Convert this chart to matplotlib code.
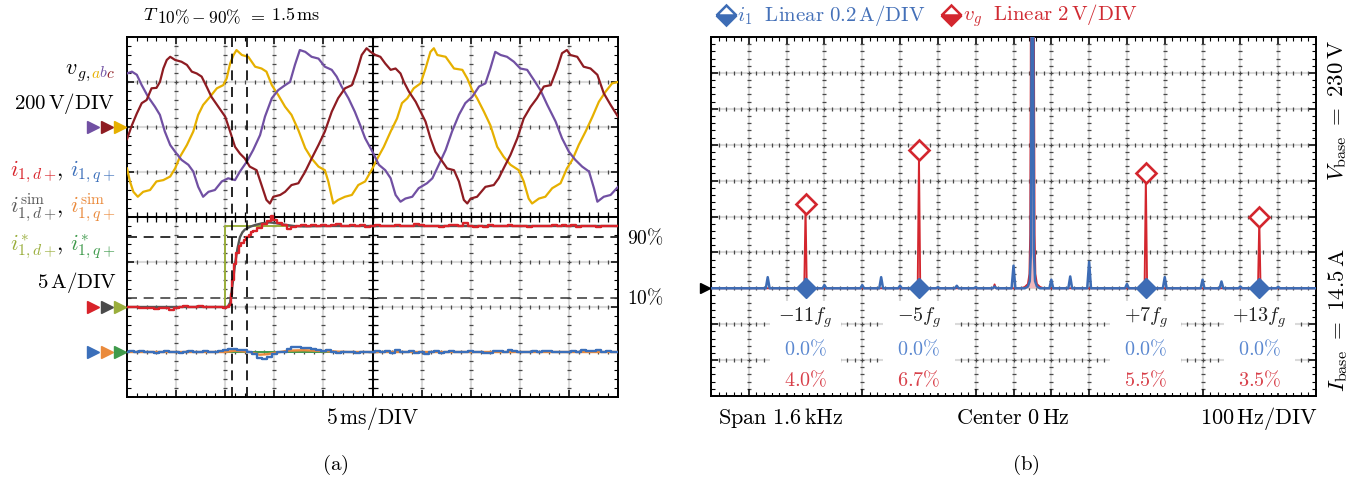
import numpy as np
import matplotlib
matplotlib.use("Agg")
import matplotlib.pyplot as plt
from matplotlib.patches import Rectangle

plt.rcParams['mathtext.fontset'] = 'cm'
plt.rcParams['font.family'] = 'serif'
plt.rcParams['font.serif'] = ['DejaVu Serif']

# ---------------- DATA (left panel, units: divisions; 5 ms/DIV, 200 V/DIV, 5 A/DIV) -------------
# grid voltage phase a (gold), (time_div, value_div)
vga_pts = [(0, -0.92), (0.06, -1.21), (0.13, -1.44), (0.22, -1.55), (0.33, -1.44), (0.47, -1.40), (0.6, -1.21),
           (0.74, -1.18), (0.88, -1.10), (0.98, -0.92), (1.08, -0.66), (1.22, -0.40), (1.35, -0.10), (1.45, 0.27),
           (1.55, 0.49), (1.69, 0.67), (1.83, 0.86), (1.96, 0.93), (2.03, 1.08), (2.1, 1.41), (2.17, 1.6),
           (2.23, 1.71), (2.34, 1.6), (2.47, 1.56), (2.61, 1.34), (2.74, 1.30), (2.84, 1.23), (2.95, 0.93),
           (3.08, 0.71), (3.22, 0.45), (3.35, 0.27), (3.49, -0.07), (3.63, -0.47), (3.76, -0.70), (3.9, -0.88),
           (4.03, -0.96), (4.1, -1.21), (4.2, -1.70), (4.3, -1.62), (4.44, -1.55), (4.58, -1.51), (4.71, -1.29),
           (4.85, -1.21), (5.0, -0.92), (5.1, -0.70), (5.23, -0.44), (5.37, -0.10), (5.5, 0.19), (5.6, 0.53),
           (5.71, 0.64), (5.84, 0.86), (5.98, 0.97), (6.08, 1.30), (6.18, 1.67), (6.25, 1.75), (6.32, 1.6),
           (6.49, 1.56), (6.66, 1.30), (6.83, 1.27), (6.93, 1.08), (7.03, 0.82), (7.13, 0.64), (7.27, 0.34),
           (7.40, 0.04), (7.54, -0.44), (7.67, -0.66), (7.81, -0.84), (7.98, -0.96), (8.08, -1.21), (8.18, -1.59),
           (8.25, -1.70), (8.39, -1.59), (8.52, -1.55), (8.66, -1.36), (8.83, -1.25), (8.96, -0.92), (9.07, -0.73),
           (9.2, -0.40), (9.34, -0.10), (9.48, 0.23), (9.61, 0.56), (9.75, 0.79), (9.88, 0.97), (10.0, 1.0)]
# phase b (purple)
vgb_pts = [(0, 1.19), (0.1, 1.23), (0.2, 1.16), (0.3, 0.93), (0.43, 0.67), (0.57, 0.45), (0.67, 0.27), (0.77, -0.10),
           (0.88, -0.40), (0.98, -0.55), (1.11, -0.73), (1.25, -0.84), (1.35, -0.99), (1.45, -1.33), (1.55, -1.55),
           (1.66, -1.44), (1.79, -1.40), (1.93, -1.21), (2.06, -1.14), (2.2, -1.18), (2.3, -0.99), (2.44, -0.77),
           (2.57, -0.51), (2.71, -0.18), (2.81, 0.23), (2.95, 0.64), (3.08, 0.82), (3.22, 0.93), (3.32, 1.0),
           (3.42, 1.38), (3.52, 1.71), (3.63, 1.67), (3.76, 1.56), (3.9, 1.52), (4.03, 1.34), (4.17, 1.27),
           (4.27, 1.12), (4.37, 0.90), (4.51, 0.64), (4.64, 0.34), (4.75, 0.04), (4.85, -0.25), (5.0, -0.55),
           (5.13, -0.84), (5.26, -0.96), (5.37, -1.14), (5.47, -1.51), (5.57, -1.66), (5.67, -1.59), (5.81, -1.55),
           (5.94, -1.36), (6.11, -1.25), (6.22, -1.14), (6.35, -0.84), (6.49, -0.51), (6.62, -0.10), (6.76, 0.27),
           (6.89, 0.53), (7.03, 0.67), (7.17, 0.90), (7.3, 0.97), (7.4, 1.30), (7.5, 1.67), (7.61, 1.6),
           (7.74, 1.56), (7.88, 1.45), (8.01, 1.30), (8.15, 1.27), (8.29, 1.04), (8.42, 0.82), (8.56, 0.49),
           (8.73, 0.12), (8.86, -0.25), (9.0, -0.55), (9.13, -0.73), (9.27, -0.88), (9.41, -0.99), (9.51, -1.36),
           (9.58, -1.66), (9.71, -1.55), (9.85, -1.51), (10.0, -1.33)]
# phase c (dark red)
vgc_pts = [(0, -0.27), (0.1, 0.04), (0.2, 0.30), (0.3, 0.53), (0.4, 0.60), (0.5, 0.86), (0.6, 0.87), (0.67, 1.0),
           (0.74, 1.30), (0.81, 1.49), (0.88, 1.56), (0.98, 1.49), (1.11, 1.45), (1.22, 1.38), (1.32, 1.23),
           (1.42, 1.19), (1.52, 1.12), (1.62, 0.9), (1.72, 0.67), (1.86, 0.45), (2.0, 0.23), (2.1, -0.1),
           (2.2, -0.44), (2.3, -0.59), (2.4, -0.70), (2.5, -0.88), (2.64, -0.96), (2.74, -1.29), (2.84, -1.62),
           (2.91, -1.70), (2.98, -1.55), (3.12, -1.51), (3.22, -1.44), (3.35, -1.29), (3.49, -1.25), (3.63, -0.99),
           (3.76, -0.70), (3.9, -0.40), (4.03, -0.10), (4.17, 0.34), (4.3, 0.64), (4.44, 0.86), (4.58, 0.93),
           (4.68, 1.23), (4.78, 1.6), (4.88, 1.75), (4.96, 1.67), (5.06, 1.6), (5.16, 1.56), (5.26, 1.41),
           (5.37, 1.27), (5.47, 1.30), (5.57, 1.19), (5.64, 1.0), (5.74, 0.79), (5.88, 0.56), (5.98, 0.34),
           (6.08, 0.12), (6.18, -0.25), (6.28, -0.55), (6.38, -0.70), (6.52, -0.92), (6.66, -0.96), (6.76, -1.21),
           (6.86, -1.62), (6.93, -1.70), (7.0, -1.59), (7.13, -1.55), (7.30, -1.33), (7.47, -1.29), (7.57, -1.14),
           (7.67, -0.92), (7.81, -0.62), (7.95, -0.25), (8.08, 0.19), (8.22, 0.45), (8.35, 0.64), (8.49, 0.90),
           (8.63, 0.93), (8.76, 1.30), (8.86, 1.64), (8.96, 1.71), (9.03, 1.6), (9.17, 1.56), (9.30, 1.34),
           (9.44, 1.30), (9.58, 1.16), (9.71, 0.75), (9.85, 0.49), (10.0, 0.23)]

# measured d-axis current (red)
t_id = [0.0, 0.1, 0.2, 0.3, 0.4, 0.5, 0.6, 0.7, 0.8, 0.9, 1.0, 1.1, 1.2, 1.3, 1.4, 1.5, 1.6, 1.7, 1.8, 1.9, 2.0,
        2.05, 2.1, 2.13, 2.16, 2.2, 2.25, 2.3, 2.35, 2.4, 2.45, 2.5, 2.55, 2.6, 2.7, 2.8, 2.9, 2.95, 3.0,
        3.1, 3.2, 3.3, 3.4, 3.5, 3.6, 3.7, 3.8, 3.9, 4.0, 4.1, 4.2, 4.3, 4.4, 4.5, 4.6, 4.7, 4.8, 4.9, 5.0,
        5.1, 5.2, 5.3, 5.4, 5.5, 5.6, 5.7, 5.8, 5.9, 6.0, 6.1, 6.2, 6.3, 6.4, 6.5, 6.6, 6.7, 6.8, 6.9, 7.0,
        7.1, 7.2, 7.3, 7.4, 7.5, 7.6, 7.7, 7.8, 7.9, 8.0, 8.1, 8.2, 8.3, 8.4, 8.5, 8.6, 8.7, 8.8, 8.9, 9.0,
        9.1, 9.2, 9.3, 9.4, 9.5, 9.6, 9.7, 9.8, 9.9, 10.0]
i_d = [0.0, 0.01, -0.01, -0.02, -0.03, -0.02, -0.04, -0.02, -0.03, -0.06, -0.02, 0.0, 0.02, -0.01, 0.01, 0.03, 0.0,
       0.01, -0.01, 0.0, -0.02,
       -0.01, 0.05, 0.3, 0.6, 0.95, 1.2, 1.35, 1.42, 1.5, 1.56, 1.6, 1.66, 1.7, 1.76, 1.84, 1.92, 2.02, 1.93,
       1.87, 1.82, 1.74, 1.78, 1.8, 1.83, 1.8, 1.82, 1.81, 1.83, 1.8, 1.82, 1.84, 1.81, 1.79, 1.83, 1.8, 1.82, 1.78, 1.8,
       1.83, 1.79, 1.81, 1.8, 1.82, 1.79, 1.81, 1.8, 1.84, 1.82, 1.79, 1.8, 1.81, 1.78, 1.81, 1.82, 1.83, 1.79, 1.86, 1.81,
       1.77, 1.8, 1.78, 1.82, 1.79, 1.81, 1.8, 1.83, 1.8, 1.79, 1.81, 1.78, 1.8, 1.79, 1.81, 1.8, 1.82, 1.79, 1.83, 1.8,
       1.82, 1.78, 1.8, 1.79, 1.81, 1.78, 1.8, 1.79, 1.8, 1.79]
# simulated d-axis current (gray)
t_id_sim = [0, 2.05, 2.1, 2.15, 2.2, 2.25, 2.3, 2.35, 2.4, 2.5, 2.6, 2.75, 2.9, 3.0, 3.2, 3.4, 3.6, 4.0, 10.0]
i_d_sim = [0, 0, 0.1, 0.5, 0.95, 1.3, 1.55, 1.66, 1.72, 1.78, 1.82, 1.86, 1.88, 1.87, 1.83, 1.8, 1.79, 1.8, 1.8]
# d-axis reference (olive)
t_id_ref = [0, 2.0, 2.0, 10.0]
i_d_ref = [0, 0, 1.81, 1.81]

# measured q-axis current (blue)
t_iq = [round(0.1 * k, 1) for k in range(101)]
i_q = [0.0, 0.03, -0.01, 0.02, -0.01, 0.01, -0.02, 0.0, 0.02, -0.01, 0.0, -0.02, 0.01, 0.02, -0.01, 0.0, 0.02,
       -0.01, 0.01, 0.02, 0.04, 0.06, 0.07, 0.05, 0.04, 0.0, -0.05, -0.14, -0.16, -0.1, -0.04, -0.01, 0.0, 0.06,
       0.12, 0.11, 0.09, 0.08, 0.07, 0.05, 0.02, 0.04, 0.0, -0.02, 0.01, -0.01, 0.0, -0.02, 0.01, -0.01, 0.0,
       0.02, 0.0, 0.03, -0.02, 0.04, 0.01, -0.01, 0.02, -0.02, 0.01, -0.05, -0.01, 0.02, -0.02, 0.0, 0.02, -0.01,
       0.01, 0.0, 0.02, -0.01, 0.0, -0.03, -0.02, 0.02, 0.03, 0.01, 0.04, 0.02, 0.0, -0.01, 0.0, 0.02, 0.01,
       0.03, 0.02, -0.01, 0.0, -0.01, 0.0, 0.02, -0.01, 0.05, 0.03, 0.02, 0.04, 0.01, 0.03, 0.0, 0.01]
# simulated q-axis current (orange)
t_iq_sim = [0, 2.0, 2.2, 2.5, 2.7, 2.85, 3.0, 3.3, 3.6, 4.0, 4.5, 10.0]
i_q_sim = [0, 0, 0.03, 0.0, -0.06, -0.05, -0.02, 0.03, 0.04, 0.02, 0.0, 0.0]
# q-axis reference (green)
t_iq_ref = [0, 10.0]
i_q_ref = [0, 0]

t_rise_marks = [2.14, 2.44]          # dashed time cursors (div)
level_10 = 0.207                     # 10 % line (div above zero)
level_90 = 1.562                     # 90 % line (div above zero)

# ---------------- DATA (right panel: spectrum, 100 Hz/DIV, heights in div) -------------
vg_harm_freq = [-550, -250, 350, 650]
vg_harm_height = [2.34, 3.84, 3.20, 2.00]
vg_harm_labels = [r'$-11f_g$', r'$-5f_g$', r'$+7f_g$', r'$+13f_g$']
i1_harm_pct = ['0.0%', '0.0%', '0.0%', '0.0%']
vg_harm_pct = ['4.0%', '6.7%', '5.5%', '3.5%']
vg_small_freq = [-50]
vg_small_height = [0.11]
i1_peak_freq = [-650, -550, -500, -400, -350, -300, -250, -200, -150, -100, -50, 0, 100, 150, 200, 300, 350,
                400, 500, 550, 600, 650, 700]
i1_peak_height = [0.31, 0.26, 0.09, 0.09, 0.31, 0.07, 0.24, 0.03, 0.07, 0.03, 0.05, 0.63, 0.24, 0.33, 0.74,
                  0.12, 0.24, 0.31, 0.24, 0.19, 0.05, 0.23, 0.04]
f_fund = 50
fund_off_v = [-30, -20, -12, -8, -6, -4.5, 0, 4.5, 6, 8, 12, 20, 30]
fund_h_v = [0, 0.04, 0.12, 0.4, 1.5, 6, 40, 6, 1.5, 0.4, 0.12, 0.04, 0]
fund_off_i = [-20, -12, -7, -4, -2.5, 0, 2.5, 4, 7, 12, 20]
fund_h_i = [0, 0.05, 0.2, 1.0, 6, 40, 6, 1.0, 0.2, 0.05, 0]

# ---------------- colours -------------
C_A = '#e6b000'
C_B = '#7150a3'
C_C = '#8e1c22'
C_ID = '#d8232a'
C_IQ = '#3b6fba'
C_SIMD = '#555555'
C_SIMQ = '#ea8a3c'
C_REFD = '#9aae3c'
C_REFQ = '#3f9a4c'
C_SPI = '#3d6cb5'
C_SPV = '#d3262e'

W, H = 1367, 480
fig = plt.figure(figsize=(W / 100, H / 100), dpi=100)


def px_axes(x0, y0, x1, y1):
    return fig.add_axes([x0 / W, 1 - y1 / H, (x1 - x0) / W, (y1 - y0) / H])


def reticle(ax, x0, dx, nx, y0, dy, ny, cross=None):
    ax.set_xlim(x0, x0 + nx * dx)
    ax.set_ylim(y0, y0 + ny * dy)
    xs_major = x0 + dx * np.arange(nx + 1)
    ys_major = y0 + dy * np.arange(ny + 1)
    xs_minor = x0 + dx * np.arange(nx * 5 + 1) / 5
    ys_minor = y0 + dy * np.arange(ny * 5 + 1) / 5
    for xv in xs_major[1:-1]:
        ax.axvline(xv, color='#dadada', lw=1.5, zorder=0.5)
        ax.plot(np.full_like(ys_minor, xv), ys_minor, ls='none', marker='_', ms=3, mew=0.9,
                color='#4a4a4a', zorder=0.6)
    for yv in ys_major[1:-1]:
        ax.axhline(yv, color='#dadada', lw=1.5, zorder=0.5)
        ax.plot(xs_minor, np.full_like(xs_minor, yv), ls='none', marker='|', ms=3, mew=0.9,
                color='#4a4a4a', zorder=0.6)
    ax.set_xticks(xs_major)
    ax.set_xticks(xs_minor, minor=True)
    ax.set_yticks(ys_major)
    ax.set_yticks(ys_minor, minor=True)
    ax.tick_params(which='both', direction='in', top=True, right=True, bottom=True, left=True,
                   labelbottom=False, labelleft=False, color='k')
    ax.tick_params(which='major', length=5, width=1.1)
    ax.tick_params(which='minor', length=3, width=0.8)
    for s in ax.spines.values():
        s.set_linewidth(1.4)
    if cross is not None:
        cx, cy = cross
        ax.axvline(cx, color='k', lw=1.4, zorder=0.7)
        ax.plot(np.full_like(ys_minor, cx), ys_minor, ls='none', marker='_', ms=7, mew=0.9, color='k', zorder=0.7)
        ax.axhline(cy, color='k', lw=1.4, zorder=0.7)
        ax.plot(xs_minor, np.full_like(xs_minor, cy), ls='none', marker='|', ms=7, mew=0.9, color='k', zorder=0.7)


# ================= left panel =================
axL = px_axes(127, 37, 618, 397)
reticle(axL, 0, 1, 10, 0, 1, 8, cross=(5, 4))
V0, ID0, IQ0 = 6, 2, 1   # zero levels (div)

for pts, c in [(vga_pts, C_A), (vgb_pts, C_B), (vgc_pts, C_C)]:
    tt, vv = zip(*pts)
    axL.plot(tt, V0 + np.array(vv), color=c, lw=1.6, zorder=3)

axL.plot(t_id_ref, ID0 + np.array(i_d_ref), color=C_REFD, lw=1.4, zorder=3)
axL.plot(t_id_sim, ID0 + np.array(i_d_sim), color=C_SIMD, lw=1.7, zorder=3.2)
axL.plot(t_id, ID0 + np.array(i_d), color=C_ID, lw=1.7, drawstyle='steps-mid', zorder=3.4)
axL.plot(t_iq_ref, IQ0 + np.array(i_q_ref), color=C_REFQ, lw=1.4, zorder=3)
axL.plot(t_iq_sim, IQ0 + np.array(i_q_sim), color=C_SIMQ, lw=1.7, zorder=3.2)
axL.plot(t_iq, IQ0 + np.array(i_q), color=C_IQ, lw=1.7, drawstyle='steps-mid', zorder=3.4)

for tm in t_rise_marks:
    axL.axvline(tm, color='k', lw=1.2, dashes=(6, 4), zorder=4)
axL.axhline(ID0 + level_90, color='#111111', lw=1.2, dashes=(6, 4), zorder=2)
axL.axhline(ID0 + level_10, color='#444444', lw=1.2, dashes=(6, 4), zorder=2)

# ================= right panel =================
axR = px_axes(711, 37, 1316, 396)
reticle(axR, -800, 100, 16, 0, 1, 10)
BASE = 3


def spectrum_line(freqs, heights, hw, fund_off, fund_h):
    pts = [(-800, 0), (800, 0)]
    for f, h in zip(freqs, heights):
        pts += [(f - hw, 0), (f, h), (f + hw, 0)]
    for o, h in zip(fund_off, fund_h):
        pts.append((f_fund + o, h))
    pts.sort(key=lambda p: p[0])
    x, y = zip(*pts)
    return np.array(x), np.array(y)


xv, yv = spectrum_line(vg_harm_freq + vg_small_freq, vg_harm_height + vg_small_height, 3.5, fund_off_v, fund_h_v)
axR.fill_between(xv, BASE, BASE + yv, color='#f2b8bb', lw=0, zorder=2.9)
axR.plot(xv, BASE + yv, color=C_SPV, lw=1.3, zorder=3)
xi, yi = spectrum_line(i1_peak_freq, i1_peak_height, 5, fund_off_i, fund_h_i)
axR.plot(xi, BASE + yi, color=C_SPI, lw=1.8, zorder=3.5)
axR.plot(vg_harm_freq, BASE + np.array(vg_harm_height), ls='none', marker='D', ms=10, mfc='white',
         mec=C_SPV, mew=1.9, zorder=4)
axR.plot(vg_harm_freq, [BASE] * len(vg_harm_freq), ls='none', marker='D', ms=10, mfc=C_SPI,
         mec=C_SPI, mew=1, zorder=4.5)

for f, lab, pi, pv in zip(vg_harm_freq, vg_harm_labels, i1_harm_pct, vg_harm_pct):
    axR.add_patch(Rectangle((f - 94, 0.08), 188, 2.57, facecolor='white', edgecolor='none', zorder=2))
    axR.text(f, 2.17, lab, ha='center', va='center', fontsize=14.5, color='#222222', zorder=5)
    axR.text(f, 1.31, pi.replace('%', r'\%').join(['$', '$']), ha='center', va='center', fontsize=14.5,
             color='#5b88d0', zorder=5)
    axR.text(f, 0.45, pv.replace('%', r'\%').join(['$', '$']), ha='center', va='center', fontsize=14.5,
             color='#d8404a', zorder=5)

# ================= overlay (pixel coords) =================
ov = fig.add_axes([0, 0, 1, 1])
ov.set_xlim(0, W)
ov.set_ylim(H, 0)
ov.axis('off')
ov.set_zorder(10)
renderer = fig.canvas.get_renderer()


def ctext(x, y_base, parts, fs, align='right'):
    objs = []
    for p in parts:
        if isinstance(p, (int, float)):
            objs.append(p)
        else:
            s, c = p[0], p[1]
            f = p[2] if len(p) > 2 else fs
            dy = p[3] if len(p) > 3 else 0
            objs.append(ov.text(0, y_base + dy, s, color=c, fontsize=f, va='baseline', ha='left'))
    widths = [o if isinstance(o, (int, float)) else o.get_window_extent(renderer).width for o in objs]
    total = sum(widths)
    x0 = x - total if align == 'right' else (x - total / 2 if align == 'center' else x)
    for o, w in zip(objs, widths):
        if not isinstance(o, (int, float)):
            o.set_x(x0)
        x0 += w


FS = 15
ctext(116, 74, [(r'$v$', 'k'), (r'${}_{g,}$', 'k'), 0, (r'${}_{a}$', C_A), -2.5, (r'${}_{b}$', C_B), -2.5,
                (r'${}_{c}$', C_C)], 16)
ctext(115, 109, [(r'$200\,\mathrm{V/DIV}$', 'k')], FS)
ctext(115, 176, [(r'$i_{1,d+}$', C_ID), (r'$,$', 'k'), 7, (r'$i_{1,q+}$', C_IQ)], 16)
ctext(115, 213, [(r'$i^{\mathrm{sim}}_{1,d+}$', '#5a5a5a'), (r'$,$', 'k'), 7, (r'$i^{\mathrm{sim}}_{1,q+}$', C_SIMQ)], 16)
ctext(115, 250, [(r'$i^{*}_{1,d+}$', C_REFD), (r'$,$', 'k'), 7, (r'$i^{*}_{1,q+}$', C_REFQ)], 16)
ctext(117, 288, [(r'$5\,\mathrm{A/DIV}$', 'k')], FS)

for x, c in zip([93, 107, 120], [C_B, C_C, C_A]):
    ov.plot(x, 127, marker='>', ms=8.5, color=c, clip_on=False)
for x, c in zip([93, 107, 120], [C_ID, '#4a4a4a', C_REFD]):
    ov.plot(x, 307, marker='>', ms=8.5, color=c, clip_on=False)
for x, c in zip([93, 107, 120], [C_IQ, C_SIMQ, C_REFQ]):
    ov.plot(x, 352, marker='>', ms=8.5, color=c, clip_on=False)

ctext(232, 20, [(r'$T$', 'k', 13.5), -2, (r'$10\%-90\%$', 'k', 12.5, 3.5), 6, (r'$=$', 'k', 13), 6,
                (r'$1.5\,\mathrm{ms}$', 'k', 13)], 13, align='center')
ov.text(627, 238, r'$90\%$', ha='left', va='center', fontsize=14)
ov.text(627, 298, r'$10\%$', ha='left', va='center', fontsize=14)
ov.text(373, 418, r'$5\,\mathrm{ms/DIV}$', ha='center', va='center', fontsize=FS + 0.5)
ov.text(335, 465, r'$\mathrm{(a)}$', ha='center', va='center', fontsize=FS)

# right panel texts
ov.plot(726, 15, marker='D', ms=10, mfc=C_SPI, mfcalt='white', fillstyle='bottom', mec=C_SPI, mew=1.8, clip_on=False)
ov.text(737, 16, r'$i_1\ \ \mathrm{Linear}\ 0.2\,\mathrm{A/DIV}$', ha='left', va='center', fontsize=15, color='#4470b8')
ov.plot(951, 15, marker='D', ms=10, mfc=C_SPV, mfcalt='white', fillstyle='bottom', mec=C_SPV, mew=1.8, clip_on=False)
ov.text(963, 16, r'$v_g\ \ \mathrm{Linear}\ 2\,\mathrm{V/DIV}$', ha='left', va='center', fontsize=15, color='#d02a32')

ov.plot(705, 288, marker='>', ms=7, color='k', clip_on=False)
ov.text(781, 418, r'$\mathrm{Span}\ 1.6\,\mathrm{kHz}$', ha='center', va='center', fontsize=16)
ov.text(1013, 418, r'$\mathrm{Center}\ 0\,\mathrm{Hz}$', ha='center', va='center', fontsize=16)
ov.text(1259, 418, r'$100\,\mathrm{Hz/DIV}$', ha='center', va='center', fontsize=16)
ov.text(1338, 111, r'$V_{\mathrm{base}}\ =\ 230\,\mathrm{V}$', ha='center', va='center', rotation=90, fontsize=16.5)
ov.text(1338, 320, r'$I_{\mathrm{base}}\ =\ 14.5\,\mathrm{A}$', ha='center', va='center', rotation=90, fontsize=16.5)
ov.text(1026, 465, r'$\mathrm{(b)}$', ha='center', va='center', fontsize=FS)

fig.savefig('out.png', dpi=100)
